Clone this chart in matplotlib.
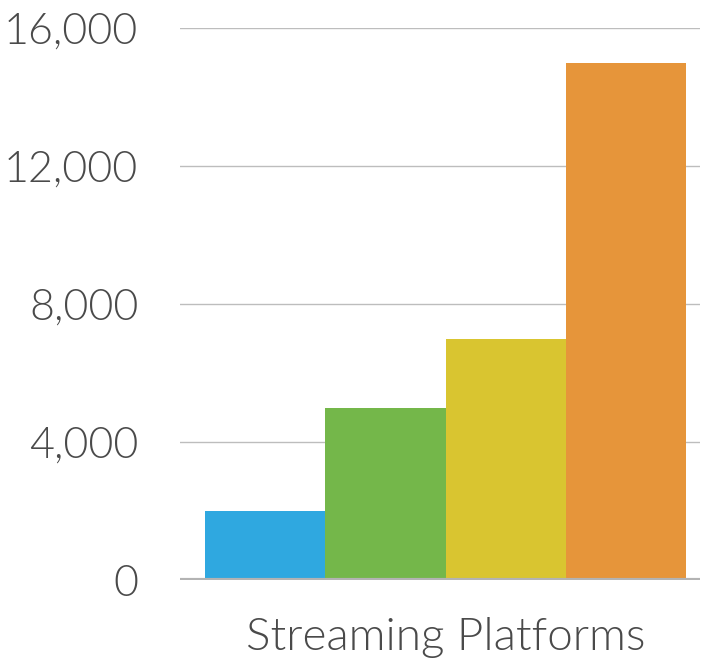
import matplotlib
matplotlib.use("Agg")
import matplotlib.pyplot as plt
from matplotlib import font_manager as fm

category = "Streaming Platforms"
series_values = [2000, 5000, 7000, 15000]
colors = ["#2fa8e0", "#74b74a", "#d9c530", "#e6953a"]
yticks = [0, 4000, 8000, 12000, 16000]
ytick_labels = ["0", "4,000", "8,000", "12,000", "16,000"]

W, H = 702, 661
fig = plt.figure(figsize=(W / 100, H / 100), dpi=100)
ax = fig.add_axes([180 / W, (H - 580) / H, 520 / W, 552 / H])

light_path = fm.findfont(fm.FontProperties(family="Lato", weight=300))
ytick_fp = fm.FontProperties(fname=light_path, size=31)
xtick_fp = fm.FontProperties(fname=light_path, size=33)
text_color = "#4a4a4a"

xs = list(range(len(series_values)))
ax.bar(xs, series_values, width=1.0, color=colors, zorder=3)

ax.set_ylim(0, 16000)
ax.set_xlim(-0.708, 3.616)
ax.set_yticks(yticks)
ax.set_yticklabels(ytick_labels, fontproperties=ytick_fp, color=text_color)
ax.set_xticks([1.5])
ax.set_xticklabels([category], fontproperties=xtick_fp, color=text_color)
ax.tick_params(axis="y", length=0, pad=30)
ax.tick_params(axis="x", length=0, pad=27)

for y in yticks[1:]:
    ax.axhline(y, color="#bdbdbd", lw=1.0, zorder=1)
ax.axhline(0, color="#b3b3b3", lw=3.0, zorder=4)

for s in ax.spines.values():
    s.set_visible(False)

fig.savefig("out.png", dpi=100)
